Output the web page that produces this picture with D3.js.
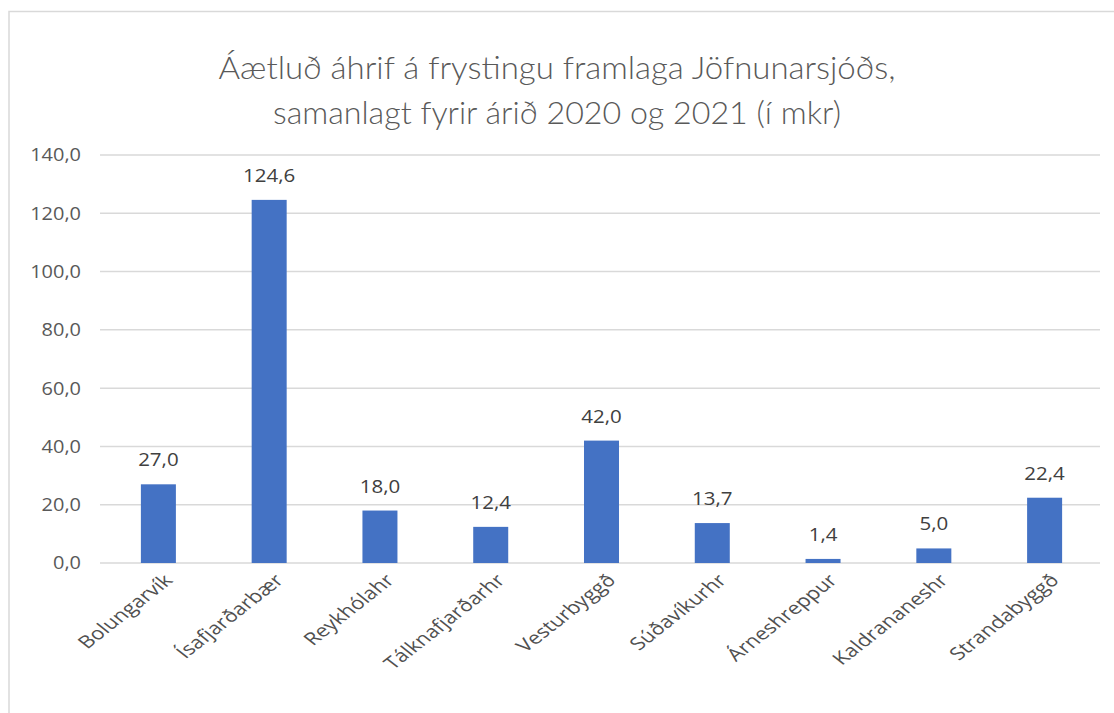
<!DOCTYPE html>
<html>
<head>
<meta charset="utf-8">
<script src="https://cdn.jsdelivr.net/npm/d3@7"></script>
<style>
  body { margin: 0; background: #fff; }
  svg { display: block; font-family: "Open Sans", Lato, sans-serif; }
</style>
</head>
<body>
<div id="chart"></div>
<script>
// data
var categories = ["Bolungarvík", "Ísafjarðarbær", "Reykhólahr", "Tálknafjarðarhr", "Vesturbyggð",
                  "Súðavíkurhr", "Árneshreppur", "Kaldrananeshr", "Strandabyggð"];
var values = [27.0, 124.6, 18.0, 12.4, 42.0, 13.7, 1.4, 5.0, 22.4];
var yTicks = [0, 20, 40, 60, 80, 100, 120, 140];
var titleLines = ["Áætluð áhrif á frystingu framlaga Jöfnunarsjóðs,",
                  "samanlagt fyrir árið 2020 og 2021 (í mkr)"];

var W = 1114, H = 713;
var margin = {top: 155, right: 14, bottom: 150, left: 103};
var sx = 1.08; // the picture's text is a little wide

var svg = d3.select("#chart").append("svg")
    .attr("width", W)
    .attr("height", H);

// chart frame (only top and left edges visible in the picture)
svg.append("path")
    .attr("d", "M9,713 V11.5 H1114")
    .attr("fill", "none")
    .attr("stroke", "#d9d9d9")
    .attr("stroke-width", 1.5);

var x = d3.scaleBand()
    .domain(categories)
    .range([margin.left, W - margin.right])
    .paddingInner(0.684)
    .paddingOuter(0.342);

var y = d3.scaleLinear()
    .domain([0, 140])
    .range([563, margin.top]);

var fmt = function(v) { return d3.format(".1f")(v).replace(".", ","); };

// title
var titleWidths = [677, 568];
svg.append("g").selectAll("text")
    .data(titleLines)
  .enter().append("text")
    .attr("x", 557)
    .attr("y", function(d, i) { return 79 + i * 45; })
    .attr("text-anchor", "middle")
    .attr("fill", "#595959")
    .attr("textLength", function(d, i) { return titleWidths[i]; })
    .attr("lengthAdjust", "spacingAndGlyphs")
    .style("font-family", "Lato, sans-serif")
    .style("font-size", "31px")
    .style("font-weight", 300)
    .text(function(d) { return d; });

// gridlines
svg.append("g").selectAll("line")
    .data(yTicks)
  .enter().append("line")
    .attr("x1", margin.left - 3)
    .attr("x2", W - margin.right)
    .attr("y1", function(d) { return y(d); })
    .attr("y2", function(d) { return y(d); })
    .attr("stroke", "#d9d9d9")
    .attr("stroke-width", 1.5);

// y axis labels
svg.append("g").selectAll("text")
    .data(yTicks)
  .enter().append("text")
    .attr("transform", function(d) { return "translate(81," + y(d) + ") scale(" + sx + ",1)"; })
    .attr("text-anchor", "end")
    .attr("dy", "0.35em")
    .attr("fill", "#595959")
    .style("font-size", "18.5px")
    .text(fmt);

// bars
svg.append("g").selectAll("rect")
    .data(values)
  .enter().append("rect")
    .attr("x", function(d, i) { return x(categories[i]); })
    .attr("width", x.bandwidth())
    .attr("y", function(d) { return y(d); })
    .attr("height", function(d) { return y(0) - y(d); })
    .attr("fill", "#4472c4");

// value labels
svg.append("g").selectAll("text")
    .data(values)
  .enter().append("text")
    .attr("transform", function(d, i) {
      return "translate(" + (x(categories[i]) + x.bandwidth() / 2) + "," + (y(d) - 18) + ") scale(" + sx + ",1)";
    })
    .attr("text-anchor", "middle")
    .attr("fill", "#404040")
    .style("font-size", "19px")
    .text(fmt);

// category labels, rotated
svg.append("g").selectAll("text")
    .data(categories)
  .enter().append("text")
    .attr("transform", function(d) {
      return "translate(" + (x(d) + x.bandwidth() / 2 + 6) + ",574) scale(1.27,1) rotate(-45)";
    })
    .attr("text-anchor", "end")
    .attr("dy", "0.6em")
    .attr("fill", "#505050")
    .style("font-size", "17.5px")
    .text(function(d) { return d; });
</script>
</body>
</html>
